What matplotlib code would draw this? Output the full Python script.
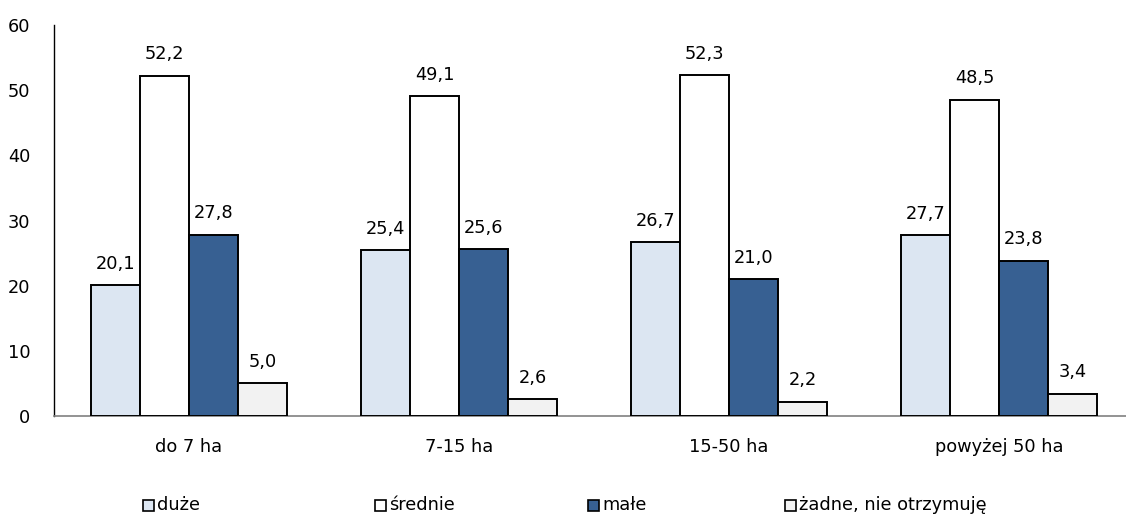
import numpy as np
import matplotlib.pyplot as plt
from matplotlib.patches import Rectangle

categories = ["do 7 ha", "7-15 ha", "15-50 ha", "powyżej 50 ha"]
series_names = ["duże", "średnie", "małe", "żadne, nie otrzymuję"]
duze = [20.1, 25.4, 26.7, 27.7]
srednie = [52.2, 49.1, 52.3, 48.5]
male = [27.8, 25.6, 21.0, 23.8]
zadne = [5.0, 2.6, 2.2, 3.4]
colors = ["#DCE6F2", "#FFFFFF", "#376092", "#F2F2F2"]

plt.rcParams['font.family'] = ['DejaVu Sans']
fs = 12.8

fig = plt.figure(figsize=(11.26, 5.17), dpi=100)
ax = fig.add_axes([54 / 1126, 1 - 416 / 517, 1 - 54 / 1126, (416 - 25) / 517])

x = np.arange(len(categories))
w = 49 / 270
offsets = [-1.5 * w, -0.5 * w, 0.5 * w, 1.5 * w]
all_series = [duze, srednie, male, zadne]

for vals, off, col in zip(all_series, offsets, colors):
    bars = ax.bar(x + off, vals, width=w, color=col, edgecolor="black", linewidth=1.4, zorder=3)
    for b, v in zip(bars, vals):
        ax.annotate(f"{v:.1f}".replace(".", ","), (b.get_x() + b.get_width() / 2, v),
                    xytext=(0, 9), textcoords="offset points", ha="center", va="bottom",
                    fontsize=fs)

ax.set_xlim(-0.5, -0.5 + (1126 - 54) / 270)
ax.set_ylim(0, 60)
ax.set_yticks(range(0, 61, 10))
ax.set_xticks(x)
ax.set_xticklabels(categories, fontsize=fs)
ax.tick_params(axis="x", length=0, pad=15.5)
ax.tick_params(axis="y", length=0, pad=17, labelsize=fs)
for s in ["top", "right"]:
    ax.spines[s].set_visible(False)
ax.spines["left"].set_color("black")
ax.spines["left"].set_linewidth(1.0)
ax.spines["bottom"].set_color("#808080")
ax.spines["bottom"].set_linewidth(1.2)

# legend drawn by hand to match spacing
leg_x = [143, 375, 588, 785]
leg_y = 505
sq = 11
for lx, name, col in zip(leg_x, series_names, colors):
    fig.patches.append(Rectangle((lx / 1126, 1 - (leg_y + sq / 2) / 517), sq / 1126, sq / 517,
                                 transform=fig.transFigure, facecolor=col, edgecolor="black",
                                 linewidth=1.2))
    fig.text((lx + sq + 3) / 1126, 1 - leg_y / 517, name, fontsize=fs, va="center", ha="left")

fig.savefig("out.png", dpi=100)
